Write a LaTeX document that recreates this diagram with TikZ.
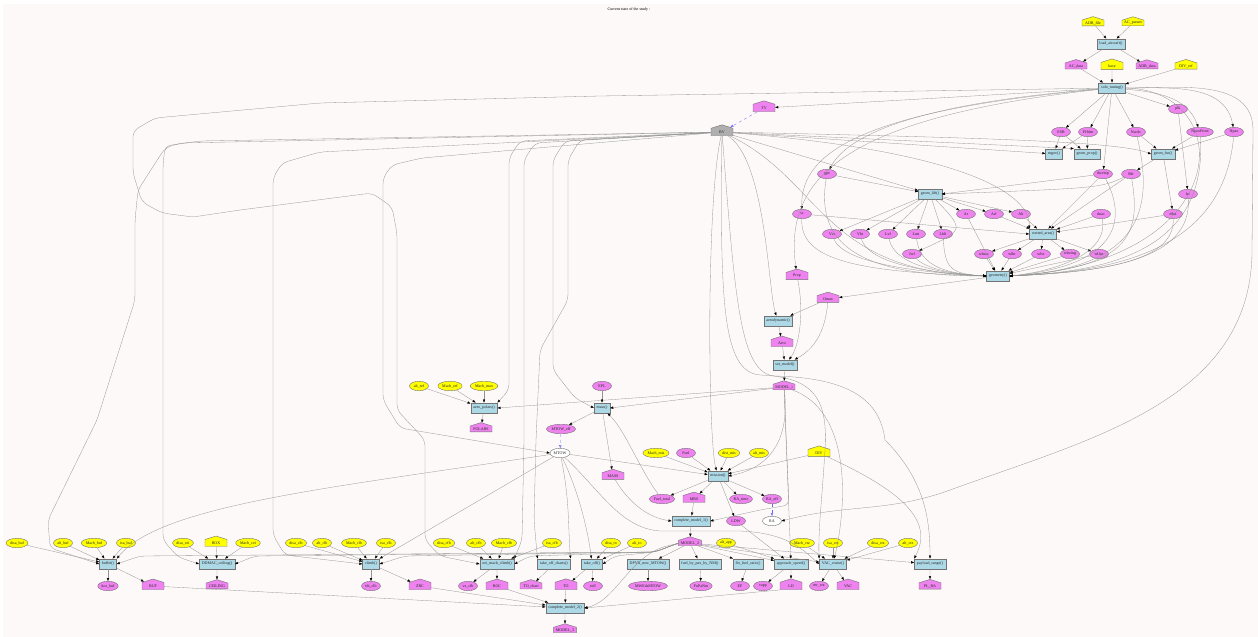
\documentclass[tikz,border=0pt]{standalone}
\usepackage{fontspec}
\setmainfont{Liberation Serif}
\usetikzlibrary{shapes.geometric,shapes.symbols,arrows.meta}
\definecolor{bgc}{RGB}{253,249,248}
\definecolor{fnblue}{RGB}{173,216,230}
\definecolor{vio}{RGB}{238,130,238}
\definecolor{yel}{RGB}{255,255,0}
\definecolor{bvgray}{RGB}{175,175,175}
\newcommand\dgfont{\fontsize{4}{4.5}\selectfont}

\begin{document}
\begin{tikzpicture}[x=1pt,y=-1pt,
  nb/.style={draw=black!55, line width=0.4pt, font=\dgfont, text=black!85},
  fn/.style={nb, rectangle, fill=fnblue, minimum height=10.5pt, minimum width=16pt, inner xsep=2.6pt, inner ysep=0pt},
  ell/.style={nb, ellipse, minimum width=19pt, minimum height=9.5pt, inner xsep=0.8pt, inner ysep=0.4pt},
  ve/.style={ell, fill=vio},
  ye/.style={ell, fill=yel},
  we/.style={ell, fill=white},
  hs/.style={nb, signal, signal to=north, signal pointer angle=145, minimum width=22pt, minimum height=9pt, inner xsep=2.2pt, inner ysep=0.5pt},
  vh/.style={hs, fill=vio},
  yh/.style={hs, fill=yel},
  gh/.style={hs, fill=bvgray},
  e/.style={draw=black!42, line width=0.3pt, -{Triangle[length=3pt,width=2.3pt,color=black]}},
  ed/.style={draw=blue!60, line width=0.3pt, dashed, -{Triangle[length=3pt,width=2.3pt,open,color=blue!75]}},
  r/.style={e, rounded corners=6pt}
]
\useasboundingbox (0,0) rectangle (1258,637);
\fill[white] (0,0) rectangle (1258,637);
\fill[bgc] (3,4) rectangle (1258,637);

\node[font=\dgfont] (title) at (629,10) {Current state of the study :};

% ---------- aircraft loading and tuning ----------
\node[yh] (adbfile) at (1093,23) {ADB\_file};
\node[yh] (acparam) at (1133,23) {AC\_param};
\node[fn] (loadac) at (1111,44) {load\_aircraft()};
\node[vh] (acdata) at (1076,66) {AC\_data};
\node[yh] (basein) at (1112,66) {base};
\node[vh] (adbdata) at (1147,66) {ADB\_data};
\node[yh] (divref) at (1186,66) {DIV\_ref};
\node[fn] (solo) at (1112,88) {solo\_tuning()};
\node[vh] (tv) at (764,108) {TV};
\node[ve] (phi) at (1178,109) {phi};
\node[gh] (bv) at (722,132) {BV};

% ---------- geometry ----------
\node[ve] (esr) at (1061,132) {ESR};
\node[ve] (fhdm) at (1088,132) {FHdm};
\node[ve] (nacdc) at (1136,132) {Nacdc};
\node[ve] (npaxf) at (1200,132) {NpaxFront};
\node[ve] (npax) at (1234,132) {Npax};
\node[fn] (mgov) at (1054,154) {mgov()};
\node[fn] (gprop) at (1087,154) {geom\_prop()};
\node[fn] (gfus) at (1163,154) {geom\_fus()};
\node[ve] (gpe) at (827,174) {gpe};
\node[ve] (dwetop) at (1103,174) {dwetop};
\node[ve] (bfr) at (1131,174) {Bfr};
\node[fn] (glift) at (930,194) {geom\_lift()};
\node[ve] (lsc) at (1188,194) {lsc};
\node[ve] (sc) at (802,214) {sc};
\node[ve] (ar) at (966,214) {Ar};
\node[ve] (arf) at (994,214) {Arf};
\node[ve] (alt) at (1021,214) {Alt};
\node[ve] (dnac) at (1101,214) {dnac};
\node[ve] (dfus) at (1173,214) {dfus};
\node[fn] (wetted) at (1043,234) {wetted\_area()};
\node[ve] (vvt) at (832,234) {Vvt};
\node[ve] (vht) at (860,234) {Vht};
\node[ve] (lvf) at (888,234) {Lvf};
\node[ve] (lmt) at (916,234) {Lmt};
\node[ve] (lhlt) at (943,234) {Lhlt};
\node[ve] (jwf) at (912,254) {Jwf};
\node[ve] (wlnac) at (984,254) {wlnac};
\node[ve] (wlht) at (1012,254) {wlht};
\node[ve] (wlvt) at (1041,254) {wlvt};
\node[ve] (wlwing) at (1070,254) {wlwing};
\node[ve] (wlfus) at (1099,254) {wlfus};
\node[fn] (geometry) at (998,276) {geometry()};

% ---------- aerodynamics and model ----------
\node[vh] (prop) at (797,276) {Prop};
\node[vh] (omax) at (828,299) {Omax};
\node[fn] (aerodyn) at (778,321) {aerodynamic()};
\node[vh] (aero) at (782,343) {Aero};
\node[fn] (setmodel) at (785,365) {set\_model()};
\node[vh] (modeli) at (784,387) {MODEL\_i};
\node[ye] (altref) at (419,386) {alt\_ref};
\node[ye] (machref) at (450,386) {Mach\_ref};
\node[ye] (machmax) at (484,386) {Mach\_max};
\node[fn] (polars) at (484,408) {aero\_polars()};
\node[vh] (polarsout) at (481,429) {POLARS};

% ---------- mass and mission ----------
\node[ve] (epl) at (602,386) {EPL};
\node[fn] (mass) at (602,408) {mass()};
\node[ve] (mtoweff) at (561,429) {MTOW\_eff};
\node[we] (mtow) at (560,453) {MTOW};
\node[vh] (massout) at (613,476) {MASS};
\node[ye] (machmis) at (656,453) {Mach\_mis};
\node[ve] (fuel) at (686,453) {Fuel};
\node[ye] (distmis) at (729,453) {dist\_mis};
\node[ye] (altmis) at (759,453) {alt\_mis};
\node[yh] (div) at (819,453) {DIV};
\node[fn] (mission) at (718,476) {mission()};
\node[ve] (fueltot) at (662,499) {Fuel\_total};
\node[vh] (mrs) at (694,499) {MRS};
\node[ve] (ratime) at (741,499) {RA\_time};
\node[ve] (raeff) at (772,499) {RA\_eff};
\node[fn] (cm1) at (691,521) {complete\_model\_1()};
\node[ve] (ldw) at (736,521) {LDW};
\node[we] (ra) at (772,521) {RA};
\node[vh] (model2) at (690,543) {MODEL\_2};
\node[ye] (altapp) at (726,543) {alt\_app};

% ---------- performance inputs ----------
\node[ye] (disabuf) at (17,543) {disa\_buf};
\node[ye] (altbuf) at (63,543) {alt\_buf};
\node[ye] (machbuf) at (94,543) {Mach\_buf};
\node[ye] (isabuf) at (126,543) {isa\_buf};
\node[ye] (disacei) at (183,543) {disa\_cei};
\node[yh] (box) at (216,543) {BOX};
\node[ye] (machcei) at (248,543) {Mach\_cei};
\node[ye] (disaclb) at (296,543) {disa\_clb};
\node[ye] (altclb) at (322,543) {alt\_clb};
\node[ye] (machclb) at (354,543) {Mach\_clb};
\node[ye] (isaclb) at (386,543) {isa\_clb};
\node[ye] (disacfb) at (444,543) {disa\_cfb};
\node[ye] (altcfb) at (476,543) {alt\_cfb};
\node[ye] (machcfb) at (504,543) {Mach\_cfb};
\node[ye] (isacfb) at (552,543) {isa\_cfb};
\node[ye] (disato) at (611,543) {disa\_to};
\node[ye] (altto) at (637,543) {alt\_to};
\node[ye] (machcrz) at (802,543) {Mach\_crz};
\node[ye] (isacrz) at (833,543) {isa\_crz};
\node[ye] (disacrz) at (878,543) {disa\_crz};
\node[ye] (altcrz) at (908,543) {alt\_crz};

% ---------- performance functions ----------
\node[fn] (buffet) at (108,564) {buffet()};
\node[fn] (ceiling) at (217,564) {DDMAC\_ceiling()};
\node[fn] (climb) at (371,564) {climb()};
\node[fn] (oei) at (497,564) {oei\_mach\_climb()};
\node[fn] (tocharts) at (554,564) {take\_off\_charts()};
\node[fn] (takeoff) at (592,564) {take\_off()};
\node[fn] (dpvr) at (648,564) {DPVR\_new\_MTOW()};
\node[fn] (fuelpax) at (700,564) {fuel\_by\_pax\_by\_NM()};
\node[fn] (fixfuel) at (748,564) {fix\_fuel\_ratio()};
\node[fn] (approach) at (791,564) {approach\_speed()};
\node[fn] (vaccr) at (833,564) {VAC\_cruise()};
\node[fn] (plrange) at (930,564) {payload\_range()};

% ---------- performance outputs ----------
\node[ve] (kczbuf) at (108,586) {kcz\_buf};
\node[vh] (buf) at (153,586) {BUF};
\node[vh] (ceil) at (217,586) {CEILING};
\node[ve] (tthclb) at (371,586) {tth\_clb};
\node[vh] (zrc) at (420,586) {ZRC};
\node[ve] (vzcfb) at (468,586) {vz\_cfb};
\node[vh] (roc) at (497,586) {ROC};
\node[vh] (tochart) at (531,586) {TO\_chart};
\node[vh] (to) at (566,586) {TO};
\node[ve] (tofl) at (593,586) {tofl};
\node[ve] (mwe) at (648,586) {MWEdsMTOW};
\node[ve] (fupanm) at (701,586) {FuPaNm};
\node[ve] (ef) at (740,586) {EF};
\node[ve] (vapp) at (763,586) {vapp};
\node[vh] (ld) at (791,586) {LD};
\node[ve] (mrcrz) at (819,586) {mr\_crz};
\node[vh] (vac) at (848,586) {VAC};
\node[vh] (plra) at (930,586) {PL\_RA};
\node[fn] (cm2) at (565,608) {complete\_model\_2()};
\node[vh] (model3) at (565,630) {MODEL\_3};

% ================= connectors =================
% loading and tuning
\draw[e] (adbfile) -- (loadac);
\draw[e] (acparam) -- (loadac);
\draw[e] (loadac) -- (acdata);
\draw[e] (loadac) -- (adbdata);
\draw[e] (acdata) -- (solo);
\draw[e] (basein) -- (solo);
\draw[e] (divref) -- (solo);
\draw[e] (solo) -- (tv);
\draw[ed] (tv) -- (bv);
\draw[e] (solo) -- (phi);
\draw[e] (solo) -- (esr);
\draw[e] (solo) -- (fhdm);
\draw[e] (solo) -- (nacdc);
\draw[e] (solo) to[out=-5,in=110] (npaxf);
\draw[e] (solo.east) to[out=0,in=100] (npax);
\draw[e] (solo) -- (dwetop);
\draw[e] (solo) .. controls (900,105) and (845,140) .. (gpe);
\draw[e] (solo) .. controls (870,110) and (800,150) .. (sc);
\draw[e] (solo) .. controls (840,118) and (784,180) .. (prop);
\draw[e] (phi) -- (lsc);
\draw[e] (solo.east) to[out=0,in=90] (1253,130) -- (1252,250) to[out=-90,in=20] (950,490) to[out=200,in=15] (ra.east);

% geometry
\draw[e] (esr) -- (mgov);
\draw[e] (esr) -- (gprop);
\draw[e] (fhdm) -- (mgov);
\draw[e] (fhdm) -- (gprop);
\draw[e] (nacdc) -- (gfus);
\draw[e] (npaxf) -- (gfus);
\draw[e] (npax) -- (gfus);
\draw[e] (gfus) -- (bfr);
\draw[e] (gfus) -- (dfus);
\draw[e] (bv) -- (mgov);
\draw[e] (bv) -- (gprop.north west);
\draw[e] (bv) .. controls (1000,138) and (1120,142) .. (gfus.west);
\draw[e] (bv) -- (glift);
\draw[e] (bv) .. controls (950,150) and (1030,190) .. (wetted.north west);
\draw[e] (bv) .. controls (822,180) and (822,272) .. (geometry.west);
\draw[e] (gpe) -- (glift);
\draw[e] (dwetop) -- (glift.east);
\draw[e] (bfr) .. controls (1100,188) .. (glift.east);
\foreach \n in {ar,arf,alt,vvt,vht,lvf,lmt,lhlt} \draw[e] (glift) -- (\n);
\draw[e] (glift) .. controls (965,230) .. (jwf);
\draw[e] (sc) -- (wetted.west);
\draw[e] (arf) -- (wetted);
\draw[e] (alt) -- (wetted);
\draw[e] (dwetop) -- (wetted);
\draw[e] (bfr) -- (wetted);
\draw[e] (dnac) -- (wetted);
\draw[e] (dfus) -- (wetted);
\foreach \n in {wlnac,wlht,wlvt,wlwing,wlfus} {\draw[e] (wetted) -- (\n); \draw[e] (\n) -- (geometry);}
\foreach \n/\c in {vvt/845,vht/870,lvf/895,lmt/920,lhlt/945,jwf/925}
  \draw[e] (\n) .. controls (\c,268) and (950,274) .. (geometry.west);
\draw[e] (ar) -- (geometry);
\draw[e] (sc) .. controls (800,258) and (850,272) .. (geometry.west);
\draw[e] (gpe) .. controls (815,245) and (860,276) .. (geometry.west);
\draw[e] (dnac) .. controls (1110,255) and (1050,272) .. (geometry.east);
\draw[e] (dwetop) .. controls (1125,215) and (1125,265) .. (geometry.east);
\draw[e] (bfr) .. controls (1140,230) and (1135,268) .. (geometry.east);
\draw[e] (nacdc) .. controls (1152,200) and (1150,268) .. (geometry.east);
\draw[e] (dfus) .. controls (1175,262) and (1100,272) .. (geometry.east);
\draw[e] (lsc) .. controls (1192,262) and (1100,272) .. (geometry.east);
\draw[e] (npaxf) .. controls (1208,255) and (1100,272) .. (geometry.east);
\draw[e] (npax) .. controls (1223,258) and (1100,272) .. (geometry.east);
\draw[e] (solo.east) .. controls (1238,90) and (1238,262) .. (geometry.east);

% aerodynamics and model
\draw[e] (geometry) -- (omax);
\draw[e] (omax) -- (aerodyn);
\draw[e] (omax) .. controls (825,335) and (812,350) .. (setmodel);
\draw[e] (bv) .. controls (766,160) and (768,290) .. (aerodyn);
\draw[e] (aerodyn) -- (aero);
\draw[e] (aero) -- (setmodel);
\draw[e] (prop) .. controls (804,310) and (800,345) .. (setmodel);
\draw[e] (setmodel) -- (modeli);
\draw[e] (altref) -- (polars);
\draw[e] (machref) -- (polars);
\draw[e] (machmax) -- (polars);
\draw[e] (polars) -- (polarsout);
\draw[e] (modeli) -- (polars.east);
\draw[e] (modeli) -- (mass.east);
\draw[r] (bv) -- (520,141) -- (509,158) -- (509,390) -- (polars.north east);

% mass and mission
\draw[e] (epl) -- (mass);
\draw[r] (bv) -- (565,141) -- (553,160) -- (553,370) -- (575,398) -- (mass.west);
\draw[e] (mass) -- (mtoweff);
\draw[e] (mass) -- (massout);
\draw[ed] (mtoweff) -- (mtow);
\draw[e] (fueltot) .. controls (640,470) and (625,430) .. (mass);
\draw[r] (bv) -- (422,158) -- (392,165) -- (383,178) -- (383,400) -- (400,428) -- (mtow.west);
\draw[e] (bv) .. controls (706,200) and (708,440) .. (mission);
\draw[e] (modeli) .. controls (790,440) and (770,468) .. (mission.east);
\draw[e] (mtow) -- (mission);
\foreach \n in {machmis,fuel,distmis,altmis,div} \draw[e] (\n) -- (mission);
\foreach \n in {fueltot,mrs,ratime,raeff,ldw} \draw[e] (mission) -- (\n);
\draw[ed] (raeff) -- (ra);
\draw[e] (mrs) -- (cm1);
\draw[e] (massout) .. controls (630,505) and (650,518) .. (cm1.west);
\draw[r] (modeli) -- (789,505) -- (760,510) -- (cm1.east);
\draw[e] (cm1) -- (model2);

% performance: left block
\draw[r] (bv) -- (330,140) -- (180,143) -- (165,148) -- (138,190) -- (135,220) -- (135,300) -- (97,420) -- (48,520) -- (50,548) -- (buffet.west);
\draw[r] (bv) -- (200,141) -- (165,146) -- (163,165) -- (163,540) -- (178,557) -- (ceiling.west);
\draw[r] (bv) -- (320,152) -- (282,163) -- (273,178) -- (273,535) -- (285,555) -- (climb.west);
\draw[r] (solo) -- (600,96) -- (320,103) -- (155,118) -- (133,131) -- (133,173) -- (142,202) -- (162,213) -- (193,217) -- (240,210) -- (372,193) -- (392,207) -- (397,233) -- (397,410) -- (425,440) -- (425,540) -- (440,556) -- (oei.west);
\draw[r] (bv) -- (535,143) -- (524,160) -- (524,440) -- (522,540) -- (oei.north east);
\draw[r] (bv) -- (580,140) -- (568,160) -- (568,300) -- (540,350) -- (536,440) -- (534,520) -- (tocharts.north west);
\draw[e] (mtow) .. controls (330,488) and (160,505) .. (buffet.north east);
\draw[e] (mtow) -- (climb.north east);
\draw[e] (mtow) .. controls (570,500) and (568,530) .. (tocharts.north east);
\draw[e] (mtow) .. controls (578,490) and (588,530) .. (takeoff);
\foreach \t/\x in {buffet/140,ceiling/255,climb/405,oei/530,takeoff/615}
  \draw[r] (model2.west) -- (655,552) -- (\x,556) -- (\t.east);
\foreach \n in {disabuf,altbuf,machbuf,isabuf} \draw[e] (\n) -- (buffet);
\foreach \n in {disacei,box,machcei} \draw[e] (\n) -- (ceiling);
\foreach \n in {disaclb,altclb,machclb,isaclb} \draw[e] (\n) -- (climb);
\foreach \n in {disacfb,altcfb,machcfb,isacfb} \draw[e] (\n) -- (oei);
\foreach \n in {disato,altto} \draw[e] (\n) -- (takeoff);
\draw[e] (buffet) -- (kczbuf);
\draw[e] (buffet) -- (buf);
\draw[e] (ceiling) -- (ceil);
\draw[e] (climb) -- (tthclb);
\draw[e] (climb) -- (zrc);
\draw[e] (oei) -- (vzcfb);
\draw[e] (oei) -- (roc);
\draw[e] (tocharts) -- (tochart);
\draw[e] (takeoff) -- (to);
\draw[e] (takeoff) -- (tofl);

% performance: right block
\foreach \t in {dpvr,fuelpax,fixfuel,approach,vaccr,plrange} \draw[e] (model2) -- (\t);
\draw[e] (dpvr) -- (mwe);
\draw[e] (fuelpax) -- (fupanm);
\draw[e] (fixfuel) -- (ef);
\draw[e] (ldw) -- (approach);
\draw[e] (altapp) -- (approach);
\draw[e] (modeli) -- (approach);
\draw[e] (approach) -- (vapp);
\draw[e] (approach) -- (ld);
\foreach \n in {machcrz,isacrz,disacrz,altcrz} \draw[e] (\n) -- (vaccr);
\draw[e] (vaccr) -- (mrcrz);
\draw[e] (vaccr) -- (vac);
\draw[e] (modeli) .. controls (850,410) and (848,500) .. (vaccr);
\draw[e] (bv) .. controls (720,300) and (722,372) .. (760,375) .. controls (815,377) and (828,400) .. (825,450) .. controls (822,500) and (818,530) .. (vaccr.north west);
\draw[e] (bv) .. controls (735,300) and (740,374) .. (775,376) .. controls (850,378) and (880,400) .. (885,440) .. controls (925,480) and (930,520) .. (plrange);
\draw[e] (mtow) .. controls (600,490) and (620,528) .. (660,531) -- (740,531) .. controls (790,533) and (805,552) .. (vaccr.west);
\draw[e] (div) .. controls (900,490) and (935,520) .. (plrange.north west);
\draw[e] (plrange) -- (plra);

% final assembly
\draw[e] (buf) -- (cm2);
\draw[e] (zrc) -- (cm2);
\draw[e] (roc) -- (cm2);
\draw[e] (to) -- (cm2);
\draw[e] (ld.south west) -- (cm2.east);
\draw[e] (model2) .. controls (630,548) and (620,600) .. (cm2.east);
\draw[e] (cm2) -- (model3);
\end{tikzpicture}
\end{document}
